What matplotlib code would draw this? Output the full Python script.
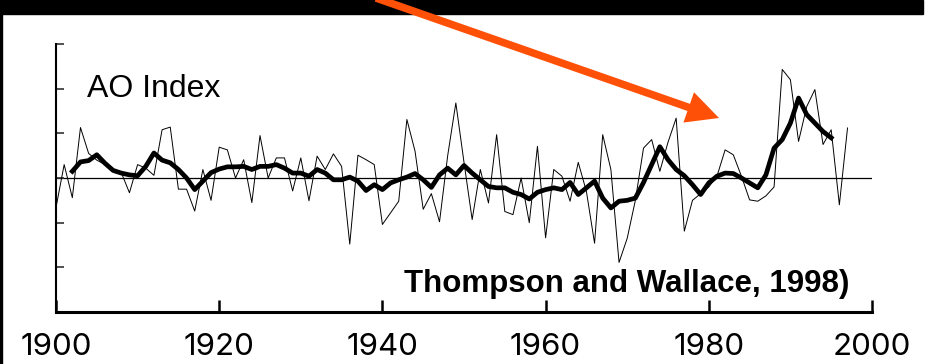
"""AO index time series (Thompson and Wallace, 1998) with highlight arrow."""

import matplotlib
matplotlib.use("Agg")
import matplotlib.pyplot as plt
from matplotlib.patches import Rectangle, FancyArrowPatch
import numpy as np

W, H = 929, 364

# annual AO index, 1900-1997
years = np.arange(1900, 1998)
ao_annual = [
    -0.66, 0.30, -0.44, 1.13, 0.55, 0.40, 0.30, 0.15, 0.12, -0.33,
    0.30, 0.22, 0.06, 1.08, 1.14, -0.25, -0.25, -0.74, 0.19, -0.50,
    0.69, 0.63, 0.00, 0.41, -0.55, 0.95, 0.00, 0.45, 0.45, -0.29,
    0.45, -0.51, 0.49, 0.19, 0.54, 0.26, -1.48, 0.51, 0.41, 0.30,
    -1.04, -0.78, -0.52, 1.31, 0.60, -0.70, -0.35, -0.98, 0.50, 1.68,
    0.35, -0.93, 0.19, -0.56, 0.97, -0.75, -0.82, 0.00, -1.00, 0.71,
    -1.34, 0.19, 0.04, -0.52, 0.35, -0.30, -1.46, 0.97, 0.19, -1.89,
    -1.35, -0.50, 0.67, 0.86, 0.15, 0.80, 1.34, -1.19, -0.50, -0.35,
    -0.20, 0.04, 0.63, 0.52, 0.04, -0.49, -0.52, -0.40, -0.20, 2.43,
    2.20, 0.82, 1.60, 1.98, 0.75, 1.08, -0.60, 1.12,
]

# smoothed curve, 1902-1995
years_smooth = np.arange(1902, 1996)
ao_smooth = [
    0.15, 0.36, 0.39, 0.52, 0.33, 0.17, 0.11, 0.07, 0.05, 0.26,
    0.56, 0.40, 0.34, 0.19, 0.00, -0.26, -0.07, 0.12, 0.20, 0.25,
    0.25, 0.26, 0.19, 0.26, 0.26, 0.30, 0.22, 0.11, 0.11, 0.04,
    0.19, 0.11, -0.04, -0.04, 0.02, -0.07, -0.28, -0.15, -0.26, -0.11,
    -0.04, 0.02, 0.10, -0.04, -0.21, 0.07, 0.22, 0.07, 0.28, 0.11,
    -0.04, -0.19, -0.22, -0.22, -0.32, -0.37, -0.47, -0.32, -0.26, -0.22,
    -0.26, -0.10, -0.37, -0.22, -0.07, -0.45, -0.67, -0.52, -0.50, -0.45,
    -0.10, 0.30, 0.70, 0.41, 0.19, 0.05, -0.15, -0.37, -0.11, 0.04,
    0.11, 0.10, 0.00, -0.11, -0.22, 0.07, 0.67, 0.86, 1.23, 1.79,
    1.42, 1.23, 1.04, 0.90,
]

xticks = [1900, 1920, 1940, 1960, 1980, 2000]
yticks = [-3, -2, -1, 0, 1, 2, 3]


def px(x, y):
    """Image pixel (top-left origin) to figure fraction."""
    return x / W, 1 - y / H


fig = plt.figure(figsize=(W / 100, H / 100), dpi=100)
fig.patch.set_facecolor("white")

ax = fig.add_axes([56 / W, (H - 312) / H, 816 / W, 268 / H])
ax.set_xlim(1900, 2000)
ax.set_ylim(-3, 3)

ax.axhline(0, color="black", lw=0.9, zorder=1)
ax.plot(years, ao_annual, color="black", lw=0.7, zorder=2)
ax.plot(years_smooth, ao_smooth, color="black", lw=3.4, zorder=3,
        solid_joinstyle="round")

for side in ("top", "right"):
    ax.spines[side].set_visible(False)
ax.spines["left"].set_linewidth(1.5)
ax.spines["bottom"].set_linewidth(2.2)

ax.set_yticks(yticks)
ax.set_yticklabels([])
ax.tick_params(axis="y", direction="in", length=6, width=1.2, color="#333333")
ax.set_xticks(xticks)
ax.set_xticklabels([str(t) for t in xticks], fontsize=22.5, family="Inter")
ax.tick_params(axis="x", direction="in", length=8.5, width=1.8, pad=15)

ax.text((87 - 56) / 816, (312 - 97) / 268, "AO Index", transform=ax.transAxes,
        fontsize=23, family="Liberation Sans", va="baseline", ha="left")
ax.text((849 - 56) / 816, (312 - 292) / 268, "Thompson and Wallace, 1998)",
        transform=ax.transAxes, fontsize=22.5, family="Liberation Sans",
        fontweight="bold", va="baseline", ha="right")

# black band at the top and thin strip on the left
fig.patches.append(Rectangle((0, 1 - 14 / H), 923 / W, 14 / H,
                             transform=fig.transFigure, color="black", zorder=1))
fig.patches.append(Rectangle((0, 0), 2 / W, 1, transform=fig.transFigure,
                             color="black", zorder=1))

arrow = FancyArrowPatch(px(376, -2), px(719, 118), transform=fig.transFigure,
                        arrowstyle="simple,head_length=1.1,head_width=1.1,tail_width=0.26",
                        mutation_scale=21, color="#FF5008", lw=0,
                        shrinkA=0, shrinkB=0, zorder=5)
fig.add_artist(arrow)

fig.savefig("out.png", dpi=100)
